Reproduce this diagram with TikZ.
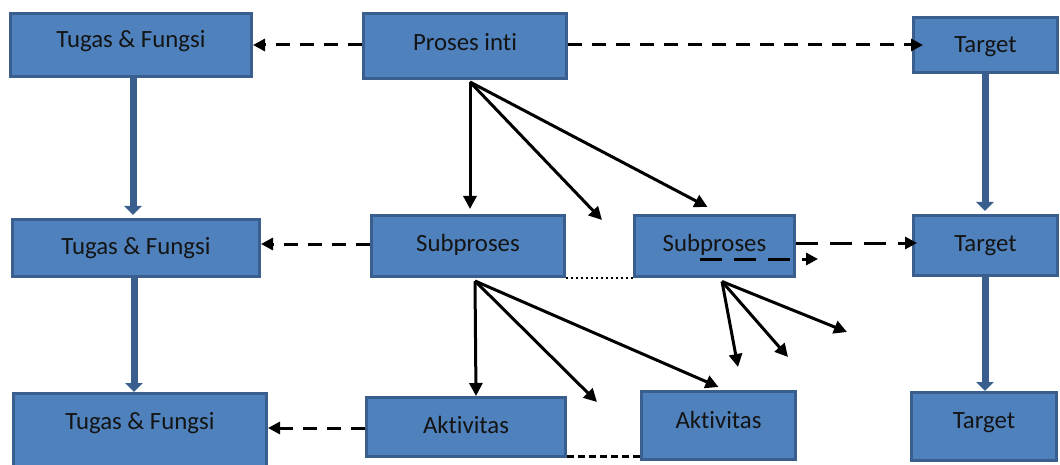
\documentclass[tikz,border=0pt]{standalone}
\usepackage{fontspec}
\setmainfont{Carlito}[Ligatures=NoCommon]
\usetikzlibrary{arrows.meta}
\definecolor{boxfill}{HTML}{4F81BD}
\definecolor{boxline}{HTML}{3A5F8E}
\definecolor{boxtext}{HTML}{141414}
\begin{document}
\begin{tikzpicture}[x=1pt,y=-1pt,
  box/.style={rectangle, draw=boxline, fill=boxfill, line width=3pt,
    text=boxtext, inner sep=0pt, font=\fontsize{24.8}{28}\selectfont,
    text height=16pt, text depth=8pt},
  flow/.style={draw=boxline, line width=7pt,
    -{Triangle[length=9pt,width=17pt]}},
  dasharrow/.style={black, line width=3pt, dash pattern=on 14pt off 10pt,
    -{Triangle[length=12pt,width=12pt]}},
  longdash/.style={dasharrow, dash pattern=on 22pt off 12pt},
  solidarrow/.style={black, line width=3pt,
    -{Triangle[length=13pt,width=13pt]}},
  dotline/.style={black, line width=2.2pt, dash pattern=on 2.2pt off 2.8pt},
  shortdash/.style={black, line width=3pt, dash pattern=on 7pt off 4pt}]
\useasboundingbox (0,0) rectangle (1060,465);

% left column
\node[box, minimum width=241, minimum height=63, text depth=11pt] (tf1) at (131,45) {Tugas \& Fungsi};
\node[box, minimum width=247, minimum height=57, text depth=3pt] (tf2) at (136,248) {Tugas \& Fungsi};
\node[box, minimum width=253, minimum height=75, text depth=19pt] (tf3) at (140,431) {Tugas \& Fungsi};

% middle columns
\node[box, minimum width=203, minimum height=65, text depth=7pt] (pi) at (465,46) {Proses inti};
\node[box, minimum width=193, minimum height=61, text depth=5pt] (s1) at (468,246) {Subproses};
\node[box, minimum width=160, minimum height=61, text depth=5pt] (s2) at (714.5,246) {Subproses};
\node[box, minimum width=199, minimum height=59, text depth=3pt] (a1) at (466,427) {Aktivitas};
\node[box, minimum width=154, minimum height=68, text depth=10pt] (a2) at (718.5,425.5) {Aktivitas};

% right column
\node[box, minimum width=144, minimum height=55, text depth=0pt] (t1) at (985.5,45) {Target};
\node[box, minimum width=144, minimum height=60, text depth=4pt] (t2) at (985.5,245.5) {Target};
\node[box, minimum width=145, minimum height=68, text depth=12pt] (t3) at (984,426.5) {Target};

% loose arrow ends
\coordinate (pe1) at (602,220);
\coordinate (se1) at (597,402);
\coordinate (ue1) at (738,367);
\coordinate (ue2) at (788,357);
\coordinate (ue3) at (847,332);
\coordinate (xe) at (818,259);

% downward flow in the outer columns
\draw[flow] ([xshift=2pt]tf1.south) -- ([xshift=2pt,yshift=3pt]tf1.south |- tf2.north);
\draw[flow] ([xshift=-2pt]tf2.south) -- ([xshift=-2pt]tf2.south |- tf3.north);
\draw[flow] ([xshift=-0.5pt]t1.south) -- ([xshift=-0.5pt,yshift=3pt]t1.south |- t2.north);
\draw[flow] ([xshift=-0.5pt]t2.south) -- ([xshift=-0.5pt]t2.south |- t3.north);

% dashed links
\draw[dasharrow] ([yshift=1pt]pi.west) -- ([yshift=1pt]pi.west -| tf1.east);
\draw[dasharrow, shorten >=-11pt] ([yshift=1pt]pi.east) -- ([yshift=1pt]pi.east -| t1.west);
\draw[dasharrow] ([yshift=2pt]s1.west) -- ([yshift=2pt]s1.west -| tf2.east);
\draw[longdash, shorten >=-5pt] ([yshift=3pt]s2.east) -- ([yshift=3pt]s2.east -| t2.west);
\draw[longdash] ([xshift=-14.5pt,yshift=-13pt]s2.center) -- (xe);
\draw[dasharrow] ([yshift=-1pt]a1.west) -- ([yshift=-1pt]a1.west -| tf3.east);

% breakdown of the core process
\coordinate (po) at ([xshift=5pt,yshift=-2pt]pi.south);
\draw[solidarrow] (po) -- ([yshift=5pt]po |- s1.north);
\draw[solidarrow] (po) -- (pe1);
\draw[solidarrow] (po) -- ([xshift=-7pt,yshift=7pt]s2.north);

% breakdown of the first subprocess
\coordinate (so) at ([xshift=7pt,yshift=-3pt]s1.south);
\draw[solidarrow] (so) -- ([xshift=1pt]so |- a1.north);
\draw[solidarrow] (so) -- (se1);
\draw[solidarrow] (so) -- ([yshift=3pt]a2.north);

% breakdown of the second subprocess
\coordinate (uo) at ([xshift=7.5pt,yshift=-3.5pt]s2.south);
\draw[solidarrow] (uo) -- (ue1);
\draw[solidarrow] (uo) -- (ue2);
\draw[solidarrow] (uo) -- (ue3);

% same-level ties
\draw[dotline] (s1.south east) -- (s2.south west);
\draw[shortdash] ([yshift=2pt]a1.south east) -- ([yshift=2pt]a1.south east -| a2.west);
\end{tikzpicture}
\end{document}
